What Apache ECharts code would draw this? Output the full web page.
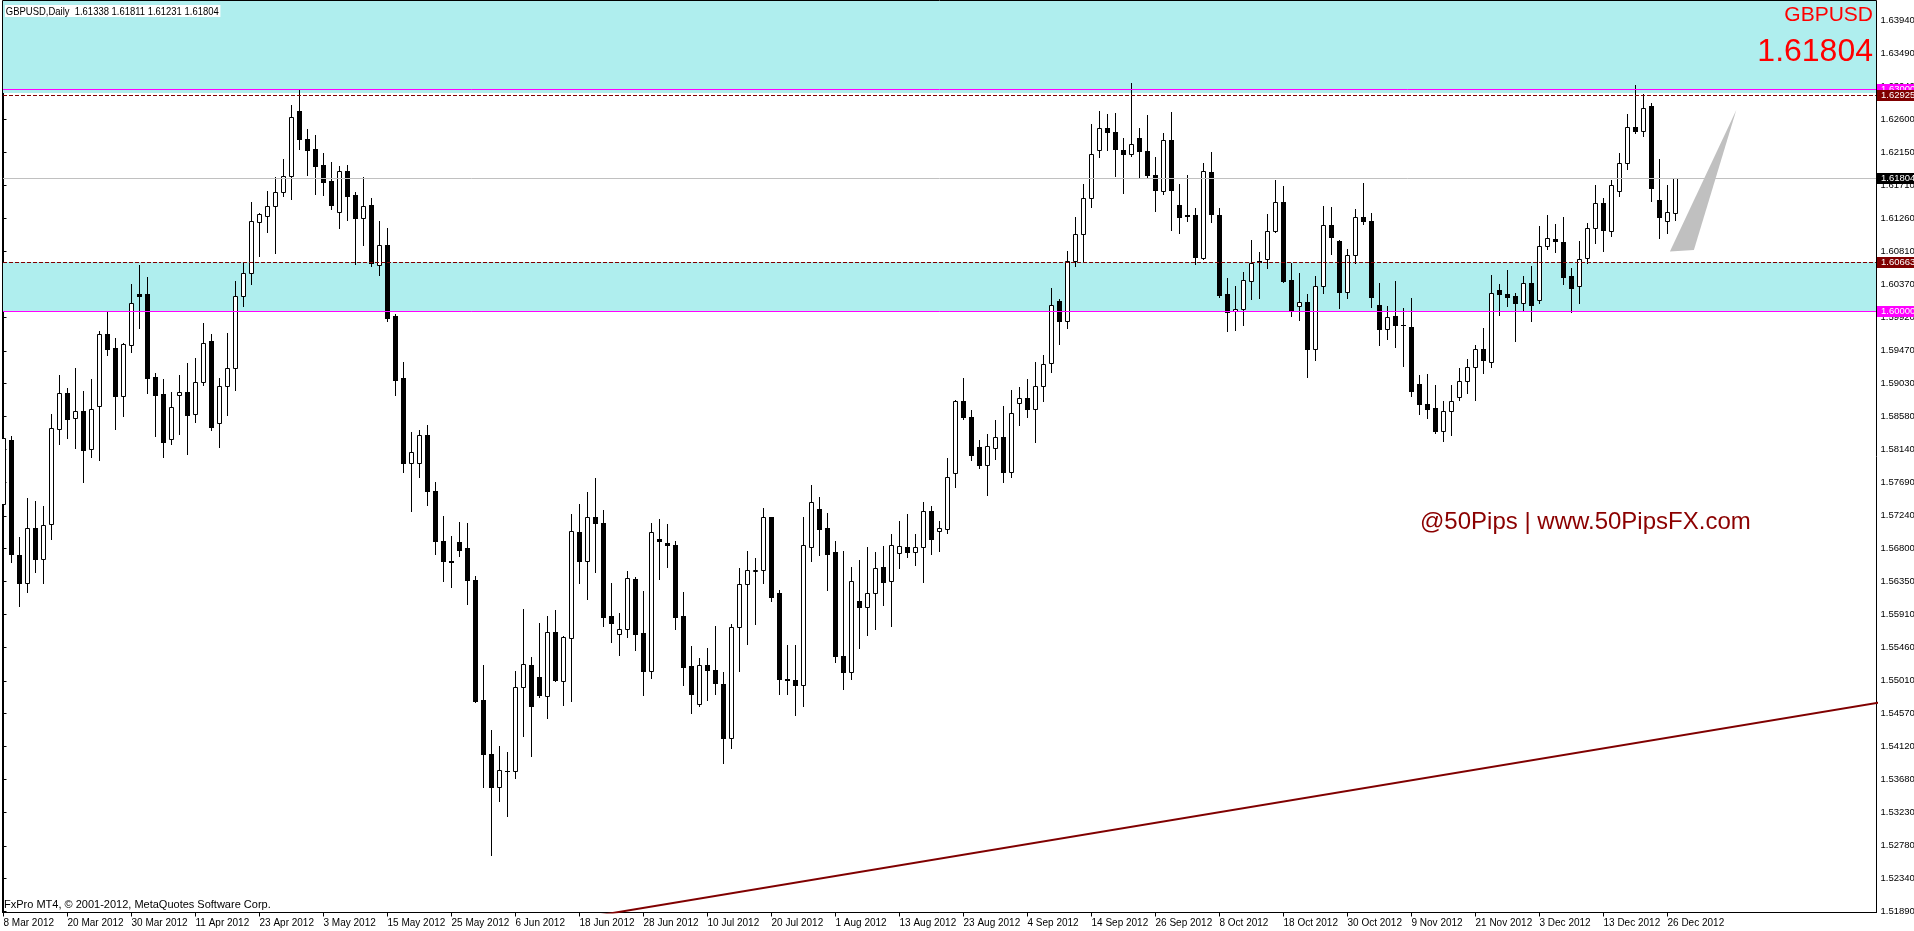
<!DOCTYPE html>
<html><head><meta charset="utf-8">
<script src="https://cdn.jsdelivr.net/npm/echarts@6/dist/echarts.min.js"></script>
<style>html,body{margin:0;padding:0;background:#fff;overflow:hidden}#c{width:1914px;height:931px}</style>
</head><body><div id="c"></div>
<script>
// ---------- DATA ----------
const dates = ['8 Mar 2012','9 Mar 2012','12 Mar 2012','13 Mar 2012','14 Mar 2012','15 Mar 2012','16 Mar 2012','19 Mar 2012','20 Mar 2012','21 Mar 2012','22 Mar 2012','23 Mar 2012','26 Mar 2012','27 Mar 2012','28 Mar 2012','29 Mar 2012','30 Mar 2012',
'2 Apr 2012','3 Apr 2012','4 Apr 2012','5 Apr 2012','6 Apr 2012','9 Apr 2012','10 Apr 2012','11 Apr 2012','12 Apr 2012','13 Apr 2012','16 Apr 2012','17 Apr 2012','18 Apr 2012','19 Apr 2012','20 Apr 2012','23 Apr 2012','24 Apr 2012','25 Apr 2012','26 Apr 2012','27 Apr 2012','30 Apr 2012',
'1 May 2012','2 May 2012','3 May 2012','4 May 2012','7 May 2012','8 May 2012','9 May 2012','10 May 2012','11 May 2012','14 May 2012','15 May 2012','16 May 2012','17 May 2012','18 May 2012','21 May 2012','22 May 2012','23 May 2012','24 May 2012','25 May 2012','28 May 2012','29 May 2012','30 May 2012','31 May 2012',
'1 Jun 2012','4 Jun 2012','5 Jun 2012','6 Jun 2012','7 Jun 2012','8 Jun 2012','11 Jun 2012','12 Jun 2012','13 Jun 2012','14 Jun 2012','15 Jun 2012','18 Jun 2012','19 Jun 2012','20 Jun 2012','21 Jun 2012','22 Jun 2012','25 Jun 2012','26 Jun 2012','27 Jun 2012','28 Jun 2012','29 Jun 2012',
'2 Jul 2012','3 Jul 2012','4 Jul 2012','5 Jul 2012','6 Jul 2012','9 Jul 2012','10 Jul 2012','11 Jul 2012','12 Jul 2012','13 Jul 2012','16 Jul 2012','17 Jul 2012','18 Jul 2012','19 Jul 2012','20 Jul 2012','23 Jul 2012','24 Jul 2012','25 Jul 2012','26 Jul 2012','27 Jul 2012','30 Jul 2012','31 Jul 2012',
'1 Aug 2012','2 Aug 2012','3 Aug 2012','6 Aug 2012','7 Aug 2012','8 Aug 2012','9 Aug 2012','10 Aug 2012','13 Aug 2012','14 Aug 2012','15 Aug 2012','16 Aug 2012','17 Aug 2012','20 Aug 2012','21 Aug 2012','22 Aug 2012','23 Aug 2012','24 Aug 2012','27 Aug 2012','28 Aug 2012','29 Aug 2012','30 Aug 2012','31 Aug 2012',
'3 Sep 2012','4 Sep 2012','5 Sep 2012','6 Sep 2012','7 Sep 2012','10 Sep 2012','11 Sep 2012','12 Sep 2012','13 Sep 2012','14 Sep 2012','17 Sep 2012','18 Sep 2012','19 Sep 2012','20 Sep 2012','21 Sep 2012','24 Sep 2012','25 Sep 2012','26 Sep 2012','27 Sep 2012','28 Sep 2012',
'1 Oct 2012','2 Oct 2012','3 Oct 2012','4 Oct 2012','5 Oct 2012','8 Oct 2012','9 Oct 2012','10 Oct 2012','11 Oct 2012','12 Oct 2012','15 Oct 2012','16 Oct 2012','17 Oct 2012','18 Oct 2012','19 Oct 2012','22 Oct 2012','23 Oct 2012','24 Oct 2012','25 Oct 2012','26 Oct 2012','29 Oct 2012','30 Oct 2012','31 Oct 2012',
'1 Nov 2012','2 Nov 2012','5 Nov 2012','6 Nov 2012','7 Nov 2012','8 Nov 2012','9 Nov 2012','12 Nov 2012','13 Nov 2012','14 Nov 2012','15 Nov 2012','16 Nov 2012','19 Nov 2012','20 Nov 2012','21 Nov 2012','22 Nov 2012','23 Nov 2012','26 Nov 2012','27 Nov 2012','28 Nov 2012','29 Nov 2012','30 Nov 2012',
'3 Dec 2012','4 Dec 2012','5 Dec 2012','6 Dec 2012','7 Dec 2012','10 Dec 2012','11 Dec 2012','12 Dec 2012','13 Dec 2012','14 Dec 2012','17 Dec 2012','18 Dec 2012','19 Dec 2012','20 Dec 2012','21 Dec 2012','24 Dec 2012','26 Dec 2012','27 Dec 2012'];

const open = [1.57395,1.58261,1.56707,1.56335,1.57070,1.56651,1.57126,1.58409,1.58893,1.58568,1.58651,1.58140,1.58730,1.59693,1.59507,1.58865,1.59553,1.60233,1.60237,1.59116,
1.58884,1.58275,1.58879,1.58907,1.58609,1.59051,1.59600,1.58488,1.58991,1.59233,1.60205,1.60516,1.61209,1.61298,1.61433,1.61609,1.61837,1.62707,1.62330,1.62195,
1.61977,1.61763,1.61339,1.61898,1.61572,1.61270,1.61437,1.60623,1.60898,1.59940,1.59102,1.57949,1.57956,1.58334,1.57577,1.56896,1.56631,1.56883,1.56801,1.56379,
1.54751,1.54025,1.53577,1.53786,1.53786,1.54928,1.55224,1.55066,1.54808,1.55666,1.55010,1.55590,1.57022,1.56631,1.57224,1.57142,1.55880,1.55647,1.55704,1.56391,
1.55653,1.55142,1.56921,1.56877,1.56852,1.55880,1.55205,1.54694,1.55224,1.55161,1.54972,1.54234,1.55741,1.56322,1.56498,1.56505,1.57218,1.56202,1.55035,1.55022,
1.54959,1.56820,1.57338,1.57073,1.56755,1.55346,1.55132,1.56088,1.56013,1.56195,1.56547,1.56359,1.56736,1.56818,1.56749,1.56818,1.57302,1.57032,1.57063,1.57818,
1.58793,1.58579,1.58170,1.57925,1.58157,1.58302,1.57830,1.58767,1.58830,1.58679,1.58994,1.59302,1.60138,1.59868,1.60679,1.61044,1.61535,1.62182,1.62478,1.62421,
1.62182,1.62126,1.62346,1.62176,1.61843,1.61629,1.62314,1.61434,1.61302,1.61302,1.60730,1.61887,1.61302,1.60239,1.60009,1.60036,1.60419,1.60689,1.60712,1.61090,
1.61487,1.60423,1.60081,1.60135,1.59495,1.60351,1.61167,1.60960,1.60270,1.60770,1.61284,1.61230,1.60095,1.59766,1.59946,1.59824,1.59797,1.59018,1.58757,1.58703,
1.58392,1.58662,1.58851,1.59067,1.59257,1.59500,1.59324,1.60297,1.60243,1.60207,1.60122,1.60392,1.60162,1.60892,1.60987,1.60946,1.60478,1.60347,1.60725,1.61135,
1.61473,1.61095,1.61635,1.62014,1.62500,1.62446,1.62775,1.61514,1.61230,1.61338];

const high = [1.58335,1.58312,1.56949,1.57475,1.57442,1.57368,1.58614,1.59140,1.58963,1.59237,1.58926,1.59088,1.59740,1.59995,1.59637,1.59572,1.60372,1.60628,1.60465,1.59172,
1.59088,1.58907,1.59140,1.59302,1.59377,1.59842,1.59693,1.59102,1.59707,1.60419,1.60660,1.61479,1.61330,1.61628,1.61814,1.62060,1.62791,1.62995,1.62465,1.62381,
1.62139,1.62019,1.61963,1.61981,1.61619,1.61814,1.61530,1.61228,1.61126,1.59972,1.59312,1.58368,1.58398,1.58461,1.57691,1.57243,1.56972,1.57155,1.57142,1.56423,
1.55230,1.54347,1.54133,1.54044,1.55136,1.55987,1.55338,1.55798,1.55880,1.55962,1.55609,1.57262,1.57401,1.57565,1.57754,1.57319,1.56328,1.55924,1.56498,1.56417,
1.56227,1.57136,1.57199,1.57123,1.56896,1.56208,1.55483,1.55325,1.55457,1.55754,1.55129,1.55779,1.56530,1.56770,1.56663,1.57350,1.57224,1.56234,1.55495,1.55495,
1.57218,1.57659,1.57495,1.57275,1.56893,1.56767,1.56547,1.56648,1.56824,1.56755,1.56837,1.57000,1.57164,1.57264,1.56994,1.57428,1.57377,1.57164,1.58025,1.58805,
1.59107,1.58673,1.58264,1.58352,1.58535,1.58730,1.58943,1.58975,1.59082,1.59321,1.59409,1.60321,1.60176,1.60824,1.61283,1.61729,1.62541,1.62717,1.62667,1.62679,
1.62346,1.63082,1.62484,1.62660,1.62082,1.62409,1.62698,1.61729,1.61843,1.61402,1.62006,1.62157,1.61402,1.60447,1.60342,1.60532,1.60964,1.60802,1.61315,1.61775,
1.61694,1.60653,1.60518,1.60234,1.60478,1.61428,1.61410,1.60964,1.60842,1.61383,1.61734,1.61329,1.60383,1.60072,1.60410,1.60045,1.60180,1.59140,1.59153,1.59004,
1.58788,1.59004,1.59234,1.59356,1.59545,1.59775,1.60500,1.60369,1.60559,1.60248,1.60478,1.60613,1.61153,1.61302,1.61180,1.61275,1.60595,1.60951,1.61203,1.61707,
1.61532,1.61775,1.62149,1.62676,1.63059,1.62946,1.62816,1.62059,1.61707,1.61811];

const low = [1.57228,1.56614,1.56019,1.56205,1.56484,1.56335,1.56930,1.58205,1.58288,1.58158,1.57693,1.58037,1.58000,1.59414,1.58419,1.58591,1.59451,1.59777,1.58902,1.58321,
1.58037,1.58214,1.58349,1.58079,1.58512,1.59005,1.58405,1.58172,1.58605,1.58944,1.60079,1.60372,1.60753,1.61079,1.60795,1.61563,1.61521,1.62195,1.61846,1.61591,
1.61577,1.61386,1.61130,1.61233,1.60647,1.60902,1.60609,1.60498,1.59874,1.58870,1.57837,1.57300,1.57767,1.57388,1.56726,1.56360,1.56278,1.56694,1.56051,1.54719,
1.53571,1.52656,1.53382,1.53180,1.53691,1.54259,1.54000,1.54795,1.54505,1.55003,1.54688,1.54738,1.56328,1.56114,1.56480,1.55748,1.55533,1.55357,1.55603,1.55426,
1.54820,1.55054,1.56391,1.56549,1.55704,1.54959,1.54574,1.54675,1.54751,1.54833,1.53899,1.54101,1.55142,1.55508,1.55779,1.56328,1.56088,1.54827,1.54833,1.54549,
1.54675,1.56631,1.56707,1.56234,1.55271,1.54893,1.55032,1.55453,1.55629,1.55717,1.56032,1.55749,1.56541,1.56679,1.56579,1.56346,1.56723,1.56761,1.57006,1.57629,
1.58547,1.57994,1.57887,1.57522,1.58006,1.57698,1.57761,1.58472,1.58572,1.58233,1.58786,1.59189,1.59566,1.59774,1.60610,1.60673,1.61409,1.62082,1.62182,1.61830,
1.61604,1.62101,1.61799,1.61799,1.61358,1.61585,1.61101,1.61057,1.61220,1.60641,1.60711,1.61207,1.60195,1.59736,1.59748,1.59815,1.60167,1.60180,1.60586,1.61072,
1.60396,1.59937,1.59887,1.59117,1.59342,1.60252,1.60784,1.60045,1.60180,1.60662,1.61185,1.60063,1.59545,1.59631,1.59522,1.59266,1.58865,1.58617,1.58563,1.58360,
1.58252,1.58333,1.58806,1.58901,1.58802,1.59167,1.59252,1.59950,1.60072,1.59604,1.60009,1.59874,1.60117,1.60847,1.60802,1.60369,1.60000,1.60117,1.60662,1.60924,
1.60815,1.61023,1.61559,1.61928,1.62410,1.62374,1.61496,1.60996,1.61059,1.61231];

const close = [1.58288,1.56730,1.56335,1.57070,1.56651,1.57112,1.58433,1.58893,1.58554,1.58651,1.58135,1.58679,1.59693,1.59498,1.58861,1.59558,1.60112,1.60214,1.59107,1.58874,
1.58242,1.58716,1.58907,1.58605,1.59042,1.59581,1.58442,1.58991,1.59233,1.60205,1.60516,1.61219,1.61312,1.61433,1.61614,1.61837,1.62623,1.62326,1.62186,1.61967,
1.61753,1.61442,1.61893,1.61563,1.61265,1.61433,1.60660,1.60893,1.59916,1.59079,1.57949,1.58105,1.58334,1.57577,1.56896,1.56631,1.56612,1.56782,1.56379,1.54738,
1.54019,1.53577,1.53805,1.53798,1.54928,1.55243,1.54669,1.54814,1.55666,1.55016,1.55596,1.57041,1.56631,1.57224,1.57136,1.55874,1.55798,1.55704,1.56398,1.55647,
1.55148,1.57022,1.56896,1.56852,1.55874,1.55199,1.54833,1.55230,1.55161,1.54984,1.54234,1.55735,1.56322,1.56511,1.56511,1.57218,1.56145,1.55035,1.55022,1.54953,
1.56839,1.57420,1.57066,1.56726,1.55340,1.55126,1.56359,1.56007,1.56195,1.56535,1.56346,1.56849,1.56837,1.56749,1.56818,1.57302,1.56925,1.57076,1.57761,1.58793,
1.58579,1.58063,1.57925,1.58182,1.58302,1.57830,1.58629,1.58830,1.58679,1.58994,1.59296,1.60088,1.59868,1.60679,1.61044,1.61535,1.62126,1.62478,1.62421,1.62195,
1.62126,1.62264,1.62163,1.61843,1.61641,1.62314,1.61641,1.61277,1.61289,1.60736,1.61899,1.61314,1.60226,1.60000,1.60041,1.60432,1.60653,1.60667,1.61095,1.61487,
1.60414,1.60009,1.60135,1.59495,1.60351,1.61176,1.61009,1.60266,1.60770,1.61284,1.61225,1.60198,1.59766,1.59932,1.59820,1.59820,1.58928,1.58757,1.58685,1.58387,
1.58662,1.58797,1.59067,1.59257,1.59500,1.59351,1.60257,1.60243,1.60198,1.60117,1.60392,1.60090,1.60892,1.61000,1.60955,1.60469,1.60320,1.60716,1.61135,1.61473,
1.61104,1.61716,1.62014,1.62500,1.62442,1.62757,1.61671,1.61279,1.61352,1.61804];

const yTickLabels = [1.51890,1.52340,1.52780,1.53230,1.53680,1.54120,1.54570,1.55010,1.55460,1.55910,1.56350,1.56800,1.57240,1.57690,1.58140,1.58580,1.59030,1.59470,1.59920,1.60370,1.60810,1.61260,1.61710,1.62150,1.62600,1.63040,1.63490,1.63940];
const xTickLabels = ['8 Mar 2012','20 Mar 2012','30 Mar 2012','11 Apr 2012','23 Apr 2012','3 May 2012','15 May 2012','25 May 2012','6 Jun 2012','18 Jun 2012','28 Jun 2012','10 Jul 2012','20 Jul 2012','1 Aug 2012','13 Aug 2012','23 Aug 2012','4 Sep 2012','14 Sep 2012','26 Sep 2012','8 Oct 2012','18 Oct 2012','30 Oct 2012','9 Nov 2012','21 Nov 2012','3 Dec 2012','13 Dec 2012','26 Dec 2012'];

// horizontal levels
const levelPrices = [1.63000, 1.62925, 1.61804, 1.60663, 1.60000];
const levelColors = ['#FF00FF', '#800000', '#C0C0C0', '#800000', '#FF00FF'];
const levelDashed = [false, true, false, true, false];
// right-axis price markers
const markerPrices = [1.63000, 1.62925, 1.61804, 1.60663, 1.60000];
const markerColors = ['#FF00FF', '#800000', '#000000', '#800000', '#FF00FF'];
// zones: upper and lower price of each rectangle
const zoneUpper = [1.64500, 1.60663];
const zoneLower = [1.62950, 1.60000];
// trend line [bar index, price]
const trendLine = [[61, 1.51600], [235, 1.54727]];
// grey triangle object [bar index, price]
const triangle = [[208.3, 1.60812], [211.3, 1.60832], [216.6, 1.62724]];

// ---------- CHART ----------
const SANS = "'Liberation Sans', Arial, sans-serif";
const X_MIN = -0.125, X_MAX = 234.125;
const Y_MIN = 1.518792, Y_MAX = 1.642035;

const chart = echarts.init(document.getElementById('c'), null, {renderer: 'canvas', width: 1914, height: 931});
const xTickIdx = xTickLabels.map(d => dates.indexOf(d));
const candleData = dates.map((d, i) => [i, open[i], high[i], low[i], close[i]]);
const last = dates.length - 1;
const titleText = 'GBPUSD,Daily  ' + [open[last], high[last], low[last], close[last]].map(v => v.toFixed(5)).join(' ');

function hLine(y) { return Math.floor(y) + 0.5; }

const option = {
  animation: false,
  backgroundColor: '#ffffff',
  grid: {left: 2.5, top: 0.5, right: 37.5, bottom: 18.5, containLabel: false, outerBoundsMode: 'none',
    show: true, borderColor: '#000', borderWidth: 1, backgroundColor: 'transparent'},
  xAxis: {
    type: 'value', min: X_MIN, max: X_MAX, position: 'bottom',
    axisLine: {show: true, lineStyle: {color: '#000', width: 1}},
    axisTick: {show: true, customValues: xTickIdx, length: 4, lineStyle: {color: '#000'}},
    axisLabel: {customValues: xTickIdx, formatter: v => dates[Math.round(v)] || '', align: 'left', margin: 6, color: '#000', fontSize: 10, fontFamily: SANS},
    splitLine: {show: false}
  },
  yAxis: {
    type: 'value', min: Y_MIN, max: Y_MAX, position: 'right',
    axisLine: {show: true, lineStyle: {color: '#000', width: 1}},
    axisTick: {show: true, customValues: yTickLabels, length: 3, lineStyle: {color: '#000'}},
    axisLabel: {customValues: yTickLabels, formatter: v => Number(v).toFixed(5), margin: 4, color: '#000', fontSize: 9.5, fontFamily: SANS},
    splitLine: {show: false}
  },
  series: [
    { // zones
      type: 'custom', silent: true, z: 1, clip: true,
      data: zoneUpper.map((t, k) => [k, t, zoneLower[k]]),
      renderItem(params, api) {
        const cs = params.coordSys;
        let y1 = Math.round(api.coord([0, api.value(1)])[1]);
        const y2 = Math.round(api.coord([0, api.value(2)])[1]);
        y1 = Math.max(y1, cs.y + 0.5);
        return {type: 'rect', shape: {x: cs.x + 0.5, y: y1, width: cs.width - 1, height: y2 - y1}, style: {fill: '#AFEEEE'}};
      }
    },
    { // triangle object
      type: 'custom', silent: true, z: 2, clip: true,
      data: [[0]],
      renderItem(params, api) {
        return {type: 'polygon', shape: {points: triangle.map(p => api.coord(p))}, style: {fill: '#C0C0C0'}};
      }
    },
    { // trend line
      type: 'line', silent: true, z: 3, clip: true, symbol: 'none',
      data: trendLine, lineStyle: {color: '#800000', width: 2}
    },
    { // candles
      type: 'custom', silent: true, z: 5, clip: true,
      data: candleData,
      encode: {x: 0, y: [1, 2, 3, 4]},
      renderItem(params, api) {
        const i = api.value(0), o = api.value(1), h = api.value(2), l = api.value(3), c = api.value(4);
        const cx = Math.floor(api.coord([i, o])[0] + 0.01) + 0.5;
        const yO = Math.round(api.coord([i, o])[1]);
        const yC = Math.round(api.coord([i, c])[1]);
        const yH = Math.round(api.coord([i, h])[1]);
        const yL = Math.round(api.coord([i, l])[1]);
        const top = Math.min(yO, yC), bot = Math.max(yO, yC);
        const children = [{type: 'line', shape: {x1: cx, y1: yH, x2: cx, y2: yL + 1}, style: {stroke: '#000', lineWidth: 1}}];
        if (bot - top < 1) {
          children.push({type: 'line', shape: {x1: cx - 2.5, y1: top + 0.5, x2: cx + 2.5, y2: top + 0.5}, style: {stroke: '#000', lineWidth: 1}});
        } else if (c >= o) {
          children.push({type: 'rect', shape: {x: cx - 2, y: top + 0.5, width: 4, height: bot - top}, style: {fill: '#fff', stroke: '#000', lineWidth: 1}});
        } else {
          children.push({type: 'rect', shape: {x: cx - 2.5, y: top, width: 5, height: bot - top + 1}, style: {fill: '#000'}});
        }
        return {type: 'group', children};
      }
    },
    { // horizontal level lines
      type: 'custom', silent: true, z: 6, clip: true,
      data: levelPrices.map((p, k) => [k, p]),
      renderItem(params, api) {
        const cs = params.coordSys, k = api.value(0);
        const y = hLine(api.coord([0, api.value(1)])[1]);
        return {type: 'line', shape: {x1: cs.x + 0.5, y1: y, x2: cs.x + cs.width - 0.5, y2: y},
          style: {stroke: levelColors[k], lineWidth: 1, lineDash: levelDashed[k] ? [4, 2] : null}};
      }
    },
    { // right-axis price markers
      type: 'custom', silent: true, z: 7, clip: false,
      data: markerPrices.map((p, k) => [k, p]),
      renderItem(params, api) {
        const cs = params.coordSys, k = api.value(0), p = api.value(1);
        const y = Math.floor(api.coord([0, p])[1]);
        const x = cs.x + cs.width + 0.5;
        return {type: 'group', children: [
          {type: 'rect', shape: {x: x, y: y - 5, width: 1914 - x, height: 11}, style: {fill: markerColors[k]}},
          {type: 'text', x: x + 4, y: y + 0.5, style: {text: p.toFixed(5), fill: '#fff', font: '9.5px ' + SANS, verticalAlign: 'middle', align: 'left'}}
        ]};
      }
    }
  ],
  graphic: [
    {type: 'text', x: 5, y: 5, z: 100, scaleX: 0.86, style: {text: titleText, fill: '#000', font: '11px ' + SANS, backgroundColor: '#fff', padding: [1, 2, 0, 1]}},
    {type: 'text', x: 4, y: 905, z: 100, style: {text: 'FxPro MT4, © 2001-2012, MetaQuotes Software Corp.', fill: '#000', font: '11px ' + SANS, verticalAlign: 'middle'}},
    {type: 'text', x: 1873, y: 15.5, z: 100, style: {text: 'GBPUSD', fill: '#FF0000', font: '21px ' + SANS, align: 'right', verticalAlign: 'middle'}},
    {type: 'text', x: 1873, y: 52.5, z: 100, style: {text: close[last].toFixed(5), fill: '#FF0000', font: '32px ' + SANS, align: 'right', verticalAlign: 'middle'}},
    {type: 'text', x: 1420, y: 522, z: 100, style: {text: '@50Pips | www.50PipsFX.com', fill: '#8B0000', font: '24px ' + SANS, verticalAlign: 'middle'}}
  ]
};
chart.setOption(option);
</script></body></html>
